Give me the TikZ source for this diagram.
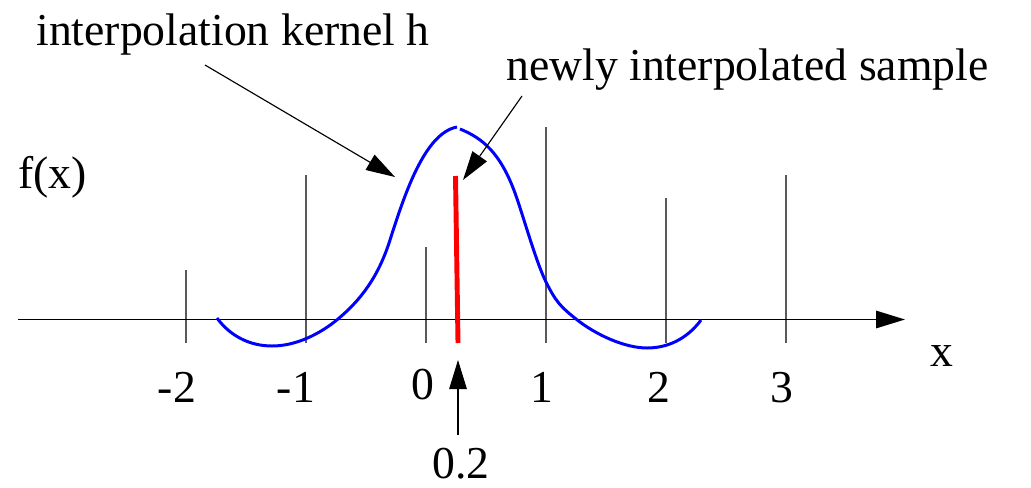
\documentclass[tikz,border=0pt]{standalone}
\usepackage{fontspec}
\setmainfont{Liberation Serif}
\usetikzlibrary{arrows.meta}

\begin{document}
\begin{tikzpicture}[
                    x=0.02cm, y=-0.02cm,
                    font=\fontsize{26}{31}\selectfont,
                    every node/.style={inner sep=0pt},
                    >={Triangle[length=0.58cm, width=0.35cm]},
                    samplestem/.style={draw=black!65, line width=1.1pt},
                    pointer/.style={->, line width=0.65pt},
                    kernel/.style={draw=blue, line width=1.7pt}
                ]
                    \useasboundingbox (0,0) rectangle (1031,487);
                    % samples
                    \foreach \n/\top in {-2/270, -1/175, 0/247, 1/127, 2/198, 3/175}
                        \draw[samplestem] (426+120*\n, 343) -- (426+120*\n, \top);
                    \foreach \n/\lx/\ly in {-2/177/402, -1/296/402, 0/423/399, 1/542/402, 2/659/402, 3/782/402}
                        \node[anchor=base] (tick\n) at (\lx,\ly) {\n};
                    % axis
                    \coordinate (axisstart) at (18,319.5);
                    \coordinate (axisend) at (905,319.5);
                    \draw[->, line width=0.8pt] (axisstart) -- (axisend);
                    \node[anchor=base] (xlabel) at (942,366) {x};
                    \node[anchor=base west] (fx) at (18,188) {f(x)};
                    % kernel, left and right half
                    \draw[kernel] (217,318) .. controls (230,336) and (250,346) .. (272,346)
                        .. controls (296,346) and (320,334) .. (338,319)
                        .. controls (360,300.5) and (378,278) .. (390,240)
                        .. controls (405,193) and (425,133) .. (457,127);
                    \draw[kernel] (460,129) .. controls (482,138) and (500,152) .. (515,193)
                        .. controls (523,215) and (536,262) .. (546,282)
                        .. controls (556,302) and (561,307) .. (576,319)
                        .. controls (596,335) and (625,348) .. (647,348)
                        .. controls (672,348) and (690,335) .. (701,320);
                    % new sample
                    \coordinate (newtop) at (455.5,176);
                    \coordinate (newbottom) at (458,343);
                    \draw[red, line width=2.8pt] (newtop) -- (newbottom);
                    % labels
                    \node[anchor=base west] (kerneltext) at (36,45) {interpolation kernel h};
                    \node[anchor=base west] (sampletext) at (506,80) {newly interpolated sample};
                    \node[anchor=base] (pos) at (461,478) {0.2};
                    \coordinate (kerneltail) at (205,65);
                    \coordinate (kerneltip) at (395,177);
                    \coordinate (sampletail) at (522,96);
                    \coordinate (sampletip) at (463,180);
                    \coordinate (postail) at (458,435);
                    \coordinate (postip) at (458,360);
                    \draw[pointer] (kerneltail) -- (kerneltip);
                    \draw[pointer] (sampletail) -- (sampletip);
                    \draw[pointer] (postail) -- (postip);
                \end{tikzpicture}
\end{document}
